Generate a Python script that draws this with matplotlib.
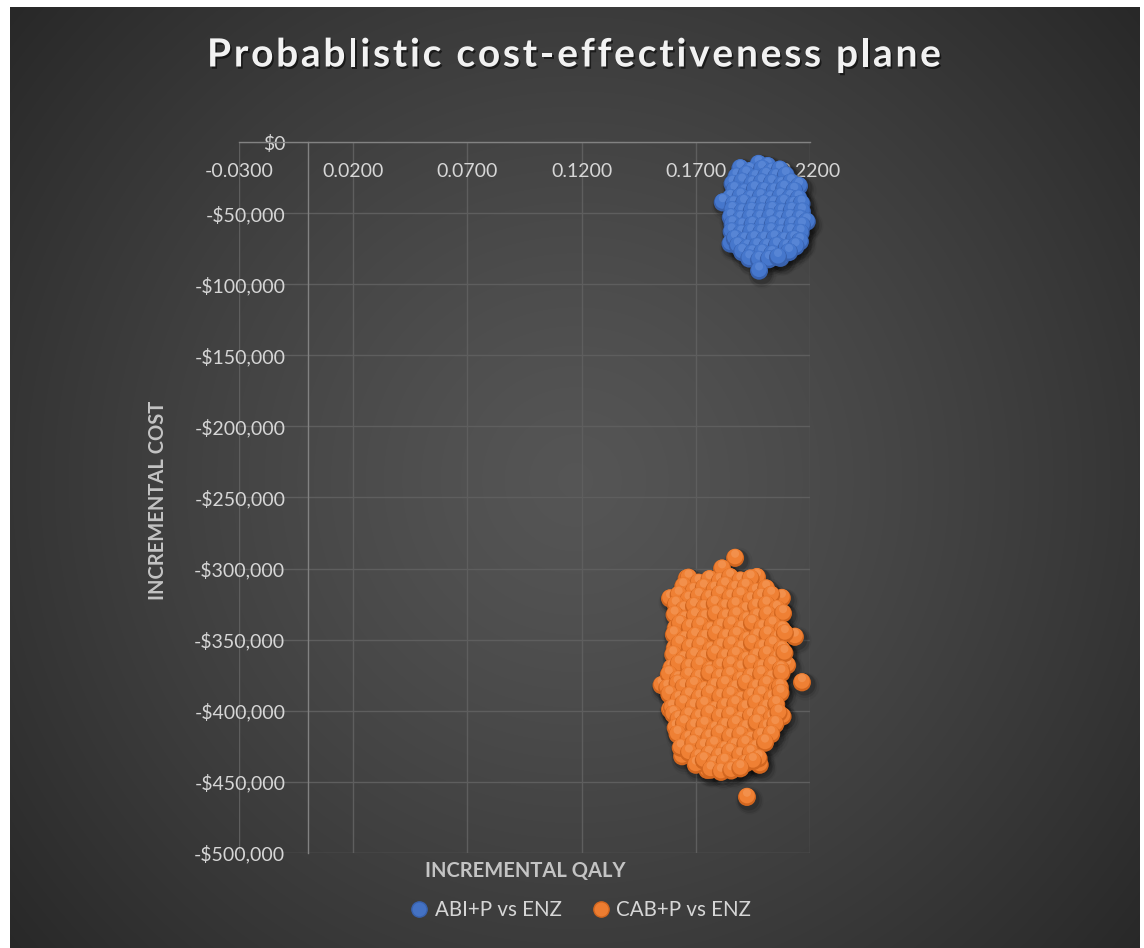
import numpy as np
import matplotlib
matplotlib.use("Agg")
import matplotlib.pyplot as plt
from matplotlib import patheffects
from matplotlib.font_manager import FontProperties
from matplotlib.lines import Line2D
from matplotlib.ticker import FuncFormatter

# ---------------------------------------------------------------- text
TITLE = "Probablistic cost-effectiveness plane"
X_LABEL = "INCREMENTAL QALY"
Y_LABEL = "INCREMENTAL COST"
SERIES_NAMES = ["ABI+P vs ENZ", "CAB+P vs ENZ"]

# ---------------------------------------------------------------- axes
X_TICKS = [-0.03, 0.02, 0.07, 0.12, 0.17, 0.22]
Y_TICKS = [0, -50000, -100000, -150000, -200000, -250000,
           -300000, -350000, -400000, -450000, -500000]

# ---------------------------------------------------------------- PSA draws
abi_qaly = [
    0.1975, 0.2015,
    0.1895, 0.1938, 0.1990, 0.2032, 0.2068,
    0.1878, 0.1921, 0.1962, 0.2008, 0.2051, 0.2094,
    0.1861, 0.1903, 0.1947, 0.1989, 0.2033, 0.2076, 0.2117, 0.2152,
    0.1869, 0.1913, 0.1958, 0.2001, 0.2044, 0.2087, 0.2131,
    0.1852, 0.1896, 0.1940, 0.1984, 0.2027, 0.2071, 0.2113, 0.2150,
    0.1818, 0.1866, 0.1911, 0.1956, 0.1998, 0.2041, 0.2086, 0.2128, 0.2163,
    0.1860, 0.1903, 0.1945, 0.1990, 0.2035, 0.2077, 0.2120, 0.2165,
    0.1853, 0.1896, 0.1939, 0.1982, 0.2026, 0.2070, 0.2112, 0.2156, 0.2186,
    0.1861, 0.1904, 0.1948, 0.1993, 0.2037, 0.2080, 0.2123, 0.2165,
    0.1857, 0.1899, 0.1942, 0.1986, 0.2030, 0.2073, 0.2116, 0.2159,
    0.1852, 0.1871, 0.1914, 0.1957, 0.2001, 0.2045, 0.2088, 0.2131, 0.2156,
    0.1884, 0.1926, 0.1969, 0.2012, 0.2055, 0.2098, 0.2137,
    0.1903, 0.1947, 0.1990, 0.2034, 0.2071, 0.2108,
    0.1934, 0.1977, 0.2020, 0.2060,
    0.1977,
]
abi_cost_k = [
    -15.5, -17.0,
    -18.5, -20.5, -19.0, -21.0, -19.5,
    -24.5, -23.0, -25.5, -24.0, -25.0, -23.5,
    -29.5, -28.0, -30.0, -28.5, -29.0, -30.5, -28.5, -31.0,
    -34.0, -35.5, -33.5, -34.5, -35.0, -33.0, -34.5,
    -39.5, -38.5, -40.0, -39.0, -40.5, -38.5, -39.5, -40.0,
    -42.5, -44.0, -43.0, -44.5, -43.5, -44.0, -43.0, -44.5, -43.5,
    -48.0, -49.5, -48.5, -49.0, -48.0, -49.5, -48.5, -49.0,
    -53.0, -54.5, -53.5, -54.0, -53.0, -54.5, -53.5, -54.0, -56.0,
    -58.0, -59.5, -58.5, -59.0, -58.0, -59.5, -58.5, -59.0,
    -63.0, -64.5, -63.5, -64.0, -63.0, -64.5, -63.5, -64.0,
    -71.5, -68.0, -69.5, -68.5, -69.0, -68.0, -69.5, -68.5, -70.0,
    -73.0, -74.5, -73.5, -74.0, -73.0, -74.5, -73.5,
    -77.5, -78.5, -78.0, -79.0, -81.5, -77.5,
    -82.0, -83.0, -82.5, -81.0,
    -90.5,
]

cab_qaly = [
    0.1872, 0.1815, 0.1660, 0.1968, 0.1587, 0.2077, 0.2134, 0.1550,
    0.2165, 0.1924, 0.1750, 0.1980, 0.1640, 0.1587, 0.2080, 0.2100,
    0.1668, 0.1712, 0.1760, 0.1805, 0.1850, 0.1895, 0.1940,
    0.1645, 0.1690, 0.1735, 0.1782, 0.1828, 0.1873, 0.1918, 0.1963, 0.2008,
    0.1625, 0.1668, 0.1713, 0.1759, 0.1805, 0.1851, 0.1896, 0.1941, 0.1986, 0.2030,
    0.1612, 0.1648, 0.1692, 0.1737, 0.1783, 0.1829, 0.1874, 0.1919, 0.1964, 0.2009, 0.2055,
    0.1607, 0.1651, 0.1696, 0.1741, 0.1787, 0.1832, 0.1878, 0.1923, 0.1968, 0.2013, 0.2058, 0.2082,
    0.1612, 0.1630, 0.1674, 0.1719, 0.1765, 0.1810, 0.1856, 0.1901, 0.1946, 0.1991, 0.2036, 0.2078,
    0.1604, 0.1651, 0.1697, 0.1742, 0.1788, 0.1833, 0.1879, 0.1924, 0.1969, 0.2014, 0.2059, 0.2090,
    0.1608, 0.1628, 0.1674, 0.1720, 0.1765, 0.1810, 0.1856, 0.1901, 0.1946, 0.1992, 0.2037, 0.2076,
    0.1601, 0.1647, 0.1693, 0.1738, 0.1784, 0.1829, 0.1875, 0.1920, 0.1966, 0.2011, 0.2057, 0.2088,
    0.1593, 0.1625, 0.1671, 0.1716, 0.1762, 0.1807, 0.1853, 0.1898, 0.1944, 0.1989, 0.2034, 0.2072,
    0.1582, 0.1622, 0.1668, 0.1714, 0.1759, 0.1805, 0.1850, 0.1896, 0.1941, 0.1986, 0.2031, 0.2075,
    0.1575, 0.1620, 0.1646, 0.1692, 0.1737, 0.1783, 0.1828, 0.1874, 0.1919, 0.1964, 0.2010, 0.2055, 0.2068,
    0.1584, 0.1625, 0.1670, 0.1716, 0.1761, 0.1807, 0.1852, 0.1898, 0.1943, 0.1988, 0.2033, 0.2071,
    0.1596, 0.1645, 0.1691, 0.1737, 0.1782, 0.1828, 0.1873, 0.1918, 0.1964, 0.2009, 0.2052,
    0.1602, 0.1624, 0.1668, 0.1714, 0.1759, 0.1805, 0.1850, 0.1896, 0.1941, 0.1986, 0.2031, 0.2062,
    0.1612, 0.1648, 0.1693, 0.1738, 0.1784, 0.1829, 0.1875, 0.1920, 0.1966, 0.2011, 0.2048,
    0.1620, 0.1668, 0.1713, 0.1759, 0.1804, 0.1850, 0.1895, 0.1941, 0.1986, 0.2030,
    0.1634, 0.1689, 0.1735, 0.1780, 0.1826, 0.1871, 0.1917, 0.1962, 0.2003,
    0.1670, 0.1712, 0.1758, 0.1803, 0.1849, 0.1894, 0.1940, 0.1975,
    0.1700, 0.1735, 0.1781, 0.1826, 0.1872, 0.1918, 0.1950,
    0.1765, 0.1810, 0.1855, 0.1895,
]
cab_cost_k = [
    -292.5, -300.0, -307.0, -306.0, -321.0, -320.7, -348.0, -382.0,
    -380.0, -460.6, -441.6, -438.0, -432.0, -399.0, -404.0, -368.0,
    -306.5, -310.0, -307.5, -309.0, -306.0, -308.5, -307.0,
    -312.5, -316.0, -313.5, -315.0, -312.0, -314.5, -313.0, -316.5, -314.0,
    -318.5, -322.0, -319.5, -321.0, -318.0, -320.5, -319.0, -322.5, -320.0, -318.5,
    -325.5, -329.0, -326.5, -328.0, -325.0, -327.5, -326.0, -329.5, -327.0, -325.5, -328.5,
    -332.5, -336.0, -333.5, -335.0, -332.0, -334.5, -333.0, -336.5, -334.0, -332.5, -335.5, -331.5,
    -342.0, -339.0, -341.5, -340.0, -343.5, -341.0, -339.5, -342.5, -338.5, -342.0, -339.5, -343.0,
    -346.5, -350.0, -347.5, -349.0, -346.0, -348.5, -347.0, -350.5, -348.0, -346.5, -349.5, -345.5,
    -356.0, -353.0, -355.5, -354.0, -357.5, -355.0, -353.5, -356.5, -352.5, -356.0, -353.5, -357.0,
    -360.5, -364.0, -361.5, -363.0, -360.0, -362.5, -361.0, -364.5, -362.0, -360.5, -363.5, -359.5,
    -370.0, -367.0, -369.5, -368.0, -371.5, -369.0, -367.5, -370.5, -366.5, -370.0, -367.5, -371.0,
    -374.5, -378.0, -375.5, -377.0, -374.0, -376.5, -375.0, -378.5, -376.0, -374.5, -377.5, -373.5,
    -384.0, -381.0, -383.5, -382.0, -385.5, -383.0, -381.5, -384.5, -380.5, -384.0, -381.5, -385.0, -383.5,
    -388.5, -392.0, -389.5, -391.0, -388.0, -390.5, -389.0, -392.5, -390.0, -388.5, -391.5, -387.5,
    -398.0, -395.0, -397.5, -396.0, -399.5, -397.0, -395.5, -398.5, -394.5, -398.0, -395.5,
    -402.5, -406.0, -403.5, -405.0, -402.0, -404.5, -403.0, -406.5, -404.0, -402.5, -405.5, -401.5,
    -412.0, -409.0, -411.5, -410.0, -413.5, -411.0, -409.5, -412.5, -408.5, -412.0, -409.5,
    -416.5, -420.0, -417.5, -419.0, -416.0, -418.5, -417.0, -420.5, -418.0, -416.5,
    -426.0, -423.0, -425.5, -424.0, -427.5, -425.0, -423.5, -426.5, -422.5,
    -429.5, -433.0, -430.5, -432.0, -429.0, -431.5, -430.0, -433.5,
    -438.0, -435.0, -437.5, -436.0, -439.5, -437.0, -435.5,
    -441.5, -443.0, -442.0, -440.5,
]

# ---------------------------------------------------------------- style
FONT = "Lato"
BLUE = dict(dark="#3861ad", base="#4677cc", light="#6d98e0", leg="#4472C4")
ORANGE = dict(dark="#d2661f", base="#ef8034", light="#f7a56a", leg="#ED7D31")
TICK_COLOR = "#d6d6d6"
LABEL_COLOR = "#c4c4c4"
GRID_COLOR = "#5e5e5e"
AXIS_COLOR = "#828282"

W, H = 1144, 948
fig = plt.figure(figsize=(W / 100, H / 100), dpi=100, facecolor="white")

# dark radial-gradient chart area
bx0, by_top, bx1 = 10, 7, 1140
bw, bh = bx1 - bx0, H - by_top
bg = fig.add_axes([bx0 / W, 0, bw / W, bh / H], zorder=-10)
yy, xx = np.mgrid[0:bh, 0:bw]
r = np.hypot(xx - (575 - bx0), yy - (480 - by_top)) / 760.0
t = np.clip(r, 0, 1) ** 1.25
val = 0.335 + (0.150 - 0.335) * t
bg.imshow(np.dstack([val, val, val]), aspect="auto", interpolation="bilinear",
          extent=(0, 1, 0, 1), origin="upper")
bg.set_axis_off()

# plot area
ax = fig.add_axes([239 / W, 1 - 853 / H, (810 - 239) / W, (853 - 142) / H])
ax.set_facecolor("none")
ax.set_xlim(X_TICKS[0], X_TICKS[-1])
ax.set_ylim(Y_TICKS[-1], Y_TICKS[0])
ax.set_xticks(X_TICKS)
ax.set_yticks(Y_TICKS)
ax.xaxis.set_major_formatter(FuncFormatter(lambda v, p: f"{v:.4f}"))


def money(v, p=None):
    v = int(round(v))
    return f"-${abs(v):,}" if v < 0 else f"${v:,}"


ax.yaxis.set_major_formatter(FuncFormatter(money))
ax.grid(True, color=GRID_COLOR, lw=1.0)
ax.set_axisbelow(True)
for s in ("top", "right"):
    ax.spines[s].set_visible(False)
ax.spines["left"].set_position(("data", 0))
ax.spines["bottom"].set_position(("data", 0))
for s in ("left", "bottom"):
    ax.spines[s].set_color(AXIS_COLOR)
    ax.spines[s].set_linewidth(1.0)
ax.tick_params(axis="both", length=0, colors=TICK_COLOR, labelsize=14)
ax.tick_params(axis="x", pad=15)
ax.tick_params(axis="y", pad=16)
for lab in ax.get_xticklabels() + ax.get_yticklabels():
    lab.set_fontfamily(FONT)

ax.set_xlabel(X_LABEL, fontsize=14.5, fontweight="bold", color=LABEL_COLOR,
              fontfamily=FONT)
ax.xaxis.set_label_coords((525 - 239) / (810 - 239), (853 - 871) / (853 - 142))
ax.xaxis.label.set_va("center")
ax.set_ylabel(Y_LABEL, fontsize=14.5, fontweight="bold", color=LABEL_COLOR,
              fontfamily=FONT)
ax.yaxis.set_label_coords((158 - 239) / (810 - 239), (853 - 500) / (853 - 142))
ax.yaxis.label.set_va("center")

# ---------------------------------------------------------------- spheres
DIAM = 18.0  # marker diameter in pixels


def px_to_s(d):
    return (d * 0.72) ** 2


def sphere_series(q, cost, pal, z):
    pts = np.column_stack([q, cost])
    disp = ax.transData.transform(pts)
    inv = ax.transData.inverted()
    # soft drop shadow under the cloud
    for grow, alpha, off in ((10, 0.05, (2.5, -3.5)), (7, 0.09, (2.0, -3.0)),
                             (4, 0.16, (1.5, -2.0))):
        sh = inv.transform(disp + np.array(off))
        ax.scatter(sh[:, 0], sh[:, 1], s=px_to_s(DIAM + grow), color="black",
                   alpha=alpha, linewidths=0, zorder=z, clip_on=False)
    # each ball: darker disc, main colour cap shifted up, soft highlight
    body = inv.transform(disp + np.array((0.0, 1.4)))
    spot = inv.transform(disp + np.array((0.0, 4.2)))
    n = len(q)
    offs = np.empty((3 * n, 2))
    offs[0::3], offs[1::3], offs[2::3] = pts, body, spot
    sizes = np.tile([px_to_s(DIAM), px_to_s(15.6), px_to_s(8.0)], n)
    dark = matplotlib.colors.to_rgba(pal["dark"])
    base = matplotlib.colors.to_rgba(pal["base"])
    light = matplotlib.colors.to_rgba(pal["light"], 0.45)
    fcs = [dark, base, light] * n
    ax.scatter(offs[:, 0], offs[:, 1], s=sizes, c=fcs, linewidths=0,
               zorder=z + 1, clip_on=False)


sphere_series(np.array(abi_qaly), np.array(abi_cost_k) * 1000, BLUE, 3)
sphere_series(np.array(cab_qaly), np.array(cab_cost_k) * 1000, ORANGE, 5)

# ---------------------------------------------------------------- title
# letter-spaced title, laid out one glyph at a time
renderer = fig.canvas.get_renderer()
tprop = FontProperties(family=FONT, weight="bold", size=28)


def text_w(s):
    return renderer.get_text_width_height_descent(s, tprop, ismath=False)[0]


bar_w = text_w("|")
pens = [0.0] + [text_w(TITLE[:i] + "|") - bar_w for i in range(1, len(TITLE))]
natural = text_w(TITLE)
target_left, target_right = 207.0, 941.0
gap = (target_right - target_left - natural) / (len(TITLE) - 1)
shadow = [patheffects.withSimplePatchShadow(offset=(1.2, -1.6),
                                            shadow_rgbFace="black", alpha=0.55)]
for i, ch in enumerate(TITLE):
    if ch == " ":
        continue
    xpix = target_left + pens[i] + i * gap
    fig.text(xpix / W, 1 - 55 / H, ch, ha="left", va="center",
             fontproperties=tprop, color="#f2f2f2", path_effects=shadow)

# ---------------------------------------------------------------- legend
handles = [
    Line2D([], [], ls="", marker="o", markersize=11,
           markerfacecolor=BLUE["leg"], markeredgecolor=BLUE["dark"]),
    Line2D([], [], ls="", marker="o", markersize=11,
           markerfacecolor=ORANGE["leg"], markeredgecolor=ORANGE["dark"]),
]
leg = fig.legend(handles, SERIES_NAMES, loc="center",
                 bbox_to_anchor=(581 / W, 1 - 910 / H), ncol=2, frameon=False,
                 handlelength=0.8, handletextpad=0.35, columnspacing=1.5,
                 prop={"family": FONT, "size": 14.8})
for txt in leg.get_texts():
    txt.set_color(TICK_COLOR)

fig.savefig("out.png", dpi=100, facecolor="white")
